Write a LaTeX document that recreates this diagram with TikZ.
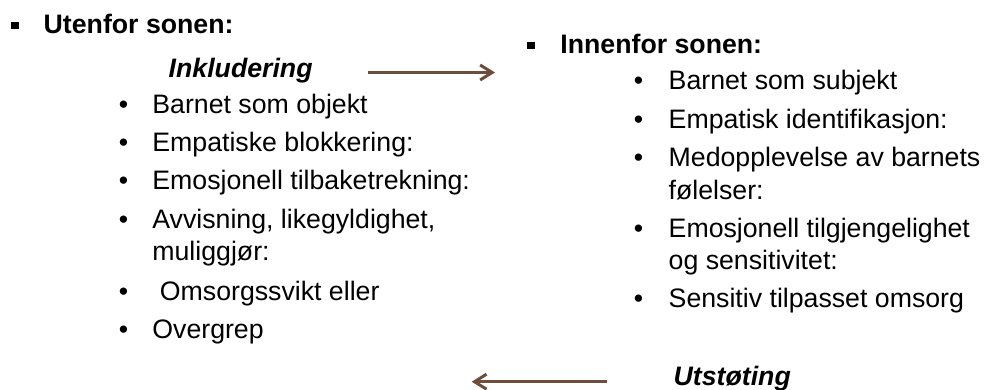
\documentclass[tikz,border=0pt]{standalone}
\usepackage{fontspec}
\setmainfont{Liberation Sans}
\usetikzlibrary{arrows.meta}
\definecolor{pilbrun}{HTML}{6E4E3A}

\begin{document}
\begin{tikzpicture}[x=0.5pt, y=-0.5pt,
    every node/.style={inner sep=0pt, font=\fontsize{13.35}{16}\selectfont},
    txt/.style={anchor=base west},
    dot/.style={anchor=base},
    head/.style={anchor=base west, font=\fontsize{13.35}{16}\selectfont\bfseries},
    title/.style={anchor=base west, font=\fontsize{13.35}{16}\selectfont\bfseries\itshape},
    sq/.style={fill=black, minimum size=3.6pt},
    pil/.style={draw=pilbrun, line width=1.5pt, -{Straight Barb[length=6pt,width=7.5pt]}}]
    \useasboundingbox (0, 0) rectangle (991, 390);
    % utenfor sonen
    \node[sq] (sqU) at (15, 25.5) {};
    \node[head] (utenfor) at (43.3, 33.3) {Utenfor sonen:};
    \node[title] (inkl) at (168.3, 78) {Inkludering};
    \node[dot] (u1) at (123.5, 113.3) {•};
    \node[txt] (objekt) at (152, 113.3) {Barnet som objekt};
    \node[dot] (u2) at (123.5, 151.7) {•};
    \node[txt] (blokk) at (152, 151.7) {Empatiske blokkering:};
    \node[dot] (u3) at (123.5, 190) {•};
    \node[txt] (tilbake) at (152, 190) {Emosjonell tilbaketrekning:};
    \node[dot] (u4) at (123.5, 228.3) {•};
    \node[txt] (avvis) at (152, 228.3) {Avvisning, likegyldighet,};
    \node[txt] (mulig) at (152, 260.3) {muliggjør:};
    \node[dot] (u5) at (123.5, 300) {•};
    \node[txt] (omsorgssvikt) at (159.5, 300) {Omsorgssvikt eller};
    \node[dot] (u6) at (123.5, 338.3) {•};
    \node[txt] (overgrep) at (152, 338.3) {Overgrep};
    % innenfor sonen
    \node[sq] (sqI) at (531, 45.5) {};
    \node[head] (innenfor) at (560, 53.3) {Innenfor sonen:};
    \node[dot] (i1) at (638.5, 90) {•};
    \node[txt] (subjekt) at (668.3, 90) {Barnet som subjekt};
    \node[dot] (i2) at (638.5, 128.5) {•};
    \node[txt] (ident) at (668.3, 128.5) {Empatisk identifikasjon:};
    \node[dot] (i3) at (638.5, 167) {•};
    \node[txt] (medopp) at (668.3, 167) {Medopplevelse av barnets};
    \node[txt] (foelelser) at (668.3, 199) {følelser:};
    \node[dot] (i4) at (638.5, 237) {•};
    \node[txt] (tilgj) at (668.3, 237) {Emosjonell tilgjengelighet};
    \node[txt] (sensitivitet) at (668.3, 269) {og sensitivitet:};
    \node[dot] (i5) at (638.5, 307) {•};
    \node[txt] (omsorg) at (668.3, 307) {Sensitiv tilpasset omsorg};
    \node[title] (utst) at (673.3, 385) {Utstøting};
    % piler
    \coordinate (inn0) at (368, 72.5);
    \coordinate (inn1) at (495, 72.5);
    \coordinate (ut0) at (606.7, 381.7);
    \coordinate (ut1) at (471.7, 381.7);
    \draw[pil] (inn0) -- (inn1);
    \draw[pil] (ut0) -- (ut1);
\end{tikzpicture}
\end{document}
